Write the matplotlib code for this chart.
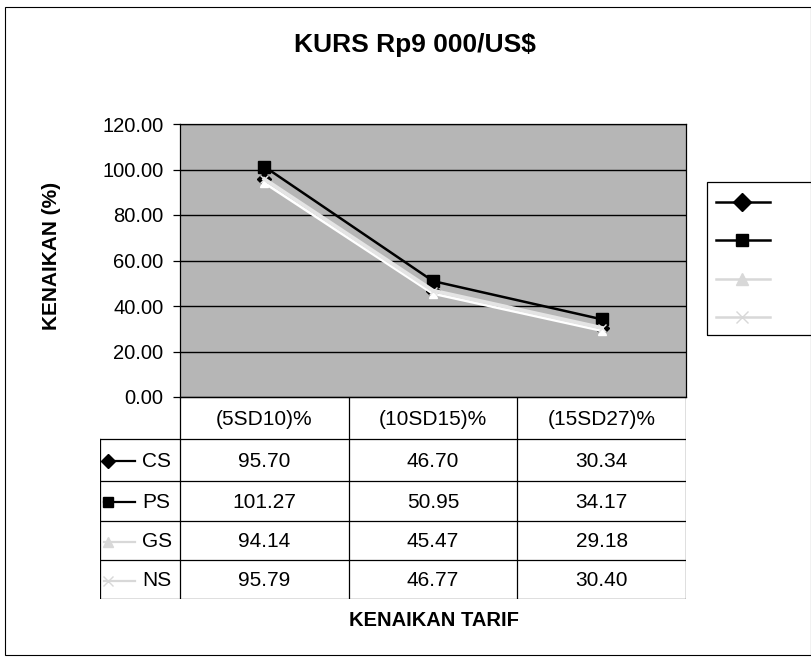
import matplotlib
matplotlib.use("Agg")
import matplotlib.pyplot as plt
from matplotlib.patches import Rectangle
from matplotlib.lines import Line2D

plt.rcParams['font.family'] = ['Liberation Sans', 'DejaVu Sans']

# data
categories = ["(5SD10)%", "(10SD15)%", "(15SD27)%"]
series_names = ["CS", "PS", "GS", "NS"]
cs = [95.70, 46.70, 30.34]
ps = [101.27, 50.95, 34.17]
gs = [94.14, 45.47, 29.18]
ns = [95.79, 46.77, 30.40]
yticks = [0, 20, 40, 60, 80, 100, 120]

values = [cs, ps, gs, ns]
styles = [
    dict(color='black', marker='D', ms=7, lw=1.6, mfc='black', mec='black'),
    dict(color='black', marker='s', ms=8, lw=1.8, mfc='black', mec='black'),
    dict(color='white', marker='^', ms=6, lw=2.0, mfc='white', mec='white'),
    dict(color='#e4e4e4', marker='x', ms=6, lw=2.8, mfc='#e4e4e4', mec='#e4e4e4'),
]
key_colors = ['black', 'black', '#d8d8d8', '#d8d8d8']

W, H = 811, 661
fig = plt.figure(figsize=(W / 100, H / 100), dpi=100)

def fx(px):
    return px / W

def fy(py):
    return 1 - py / H

# outer border
fig.patches.append(Rectangle((fx(5), fy(655)), fx(806), 648 / H, transform=fig.transFigure,
                             fill=False, ec='black', lw=0.8))

# main plot
left, right, top, bottom = 180, 686, 124, 397
ax = fig.add_axes([fx(left), fy(bottom), fx(right - left), (bottom - top) / H])
ax.set_facecolor('#b6b6b6')
x = list(range(len(categories)))
for v, st in zip(values, styles):
    ax.plot(x, v, **st)
ax.set_xlim(-0.5, len(categories) - 0.5)
ax.set_ylim(0, 120)
ax.set_yticks(yticks)
ax.set_yticklabels([f"{t:.2f}" for t in yticks], fontsize=14.5)
ax.set_xticks([])
ax.yaxis.grid(True, color='black', lw=1.0)
ax.set_axisbelow(True)
for s in ax.spines.values():
    s.set_linewidth(0.9)
ax.tick_params(axis='y', length=5, width=0.9, pad=7)

fig.text(fx(415), fy(45), "KURS Rp9 000/US$", ha='center', va='center',
         fontsize=19, fontweight='bold')
fig.text(fx(52), fy(256), "KENAIKAN (%)", ha='center', va='center',
         rotation=90, fontsize=15, fontweight='bold')
fig.text(fx(434), fy(620), "KENAIKAN TARIF", ha='center', va='center',
         fontsize=14.5, fontweight='bold')

# data table
tx0 = 100
tab = fig.add_axes([fx(tx0), fy(599), fx(right - tx0), (599 - bottom) / H])
tab.set_xlim(tx0, right)
tab.set_ylim(599, bottom)
tab.axis('off')
col_w = (right - left) / len(categories)
row_edges = [bottom, 439, 481, 521, 560, 599]
tab.plot([left, right], [bottom, bottom], color='black', lw=0.9)
for ry in row_edges[1:]:
    tab.plot([tx0, right], [ry, ry], color='black', lw=0.9)
tab.plot([tx0, tx0], [row_edges[1], row_edges[-1]], color='black', lw=0.9)
for i in range(len(categories) + 1):
    cx = left + i * col_w
    tab.plot([cx, cx], [bottom, row_edges[-1]], color='black', lw=0.9)
for i, c in enumerate(categories):
    tab.text(left + (i + 0.5) * col_w, (row_edges[0] + row_edges[1]) / 2 + 1, c,
             ha='center', va='center', fontsize=15)
for r, (name, v, st) in enumerate(zip(series_names, values, styles)):
    cy = (row_edges[r + 1] + row_edges[r + 2]) / 2 + 1
    kc = key_colors[r]
    tab.plot([104, 135], [cy, cy], color=kc, lw=1.6)
    tab.plot([108], [cy], marker=st['marker'], color=kc, ms=7, mec=kc)
    tab.text(142, cy, name, ha='left', va='center', fontsize=15)
    for i, val in enumerate(v):
        tab.text(left + (i + 0.5) * col_w, cy, f"{val:.2f}",
                 ha='center', va='center', fontsize=15)

# legend box (labels are cut off at the right edge in the original)
fig.patches.append(Rectangle((fx(707), fy(335)), fx(110), 153 / H, transform=fig.transFigure,
                             fill=False, ec='black', lw=0.9))
for k, (st, kc) in enumerate(zip(styles, key_colors)):
    ky = fy(202 + 38.3 * k)
    fig.add_artist(Line2D([fx(716), fx(770)], [ky, ky], color=kc, lw=1.8,
                          transform=fig.transFigure))
    fig.add_artist(Line2D([fx(742)], [ky], marker=st['marker'], ms=9, color=kc,
                          mec=kc, transform=fig.transFigure))

fig.savefig("out.png", dpi=100)
